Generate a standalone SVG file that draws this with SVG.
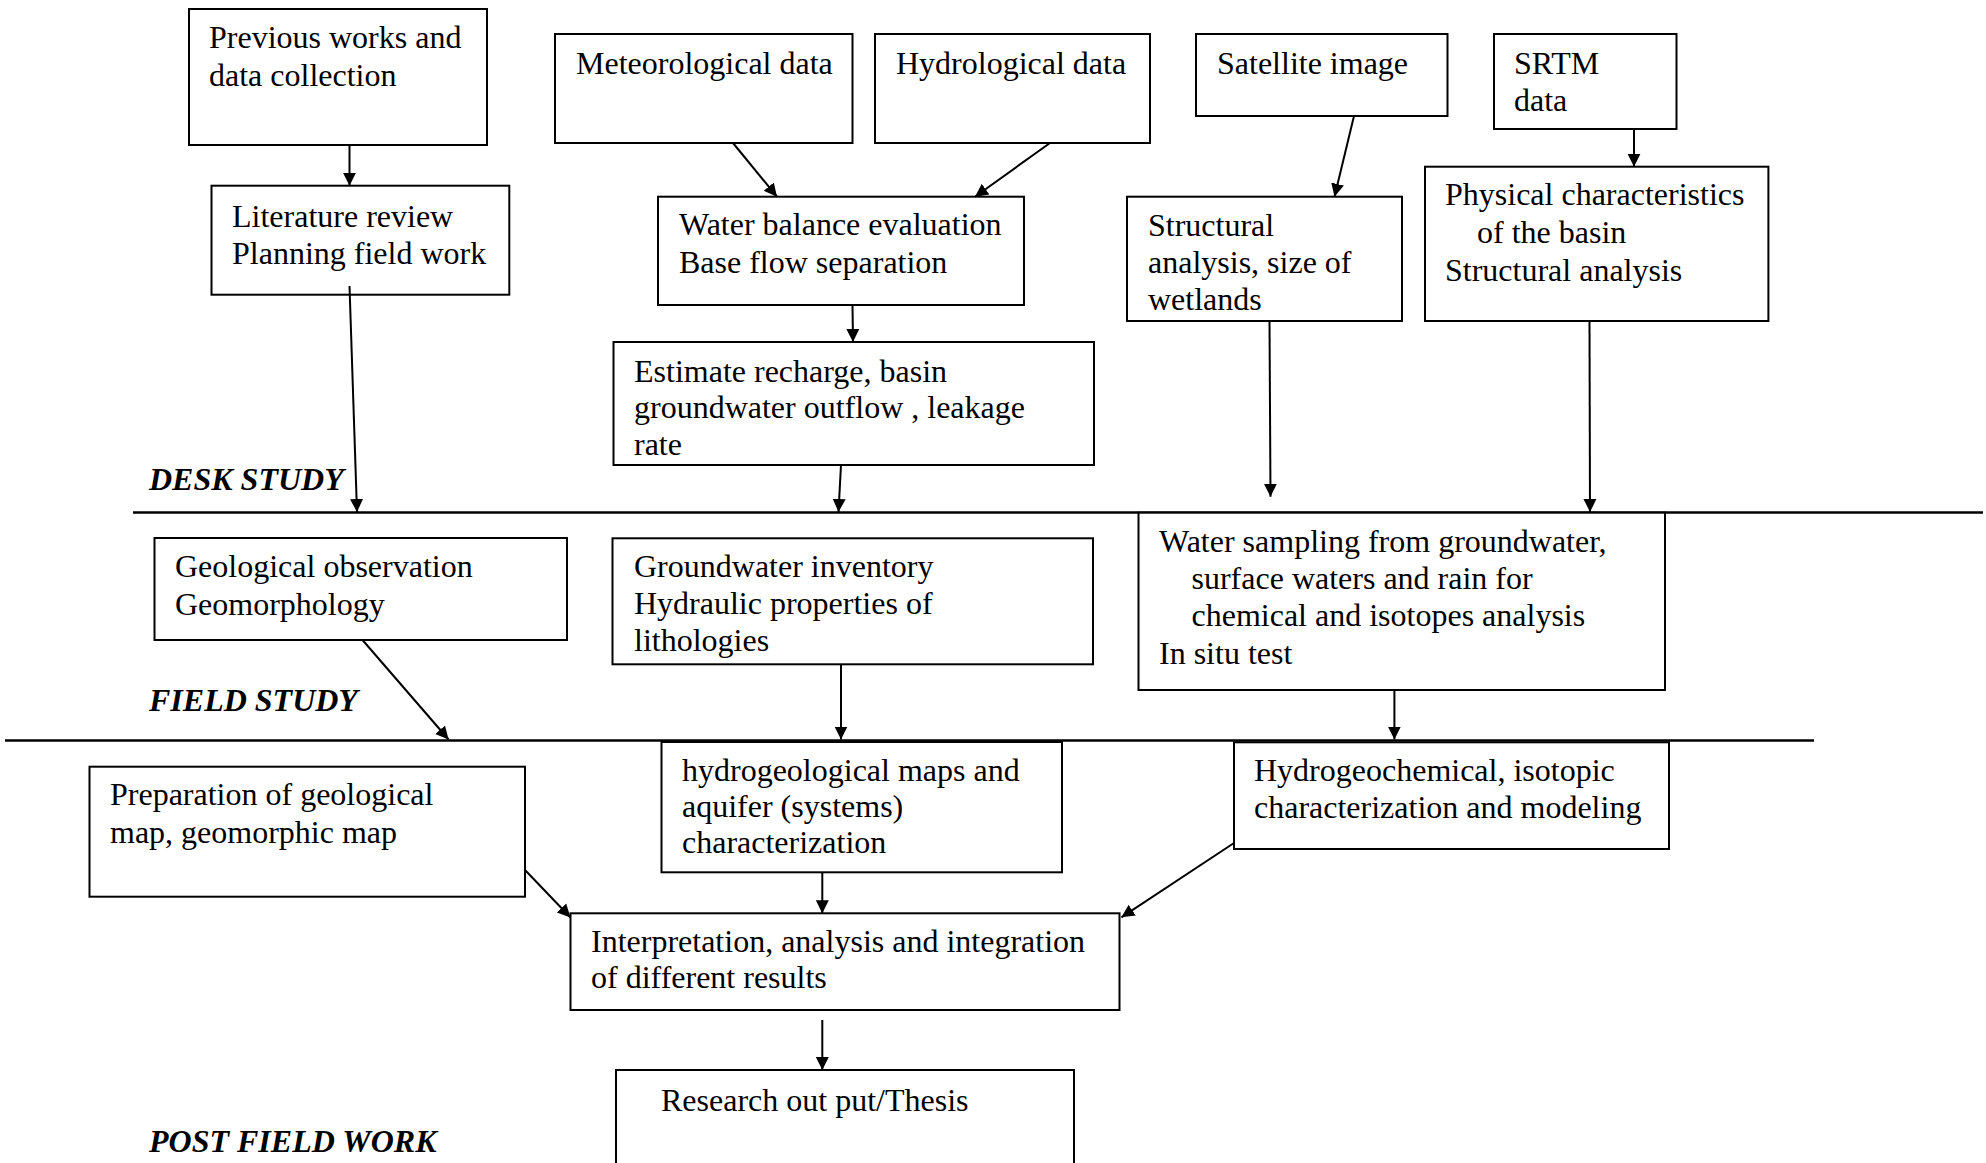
<svg xmlns="http://www.w3.org/2000/svg" width="1986" height="1163" viewBox="0 0 1986 1163">
<style>
.box{fill:#fff;stroke:#000;stroke-width:2}
.t{font-family:"Liberation Serif","Times New Roman",serif;font-size:32px;fill:#000}
.lbl{font-family:"Liberation Serif","Times New Roman",serif;font-size:32px;font-weight:bold;font-style:italic;fill:#000}
.c{stroke:#000;stroke-width:2;fill:none;marker-end:url(#ah)}
.sep{stroke:#000;stroke-width:2.5}
</style>
<defs>
<marker id="ah" viewBox="0 0 10 10" refX="10" refY="5" markerWidth="13" markerHeight="15" markerUnits="userSpaceOnUse" orient="auto">
<path d="M0,0 L10,5 L0,10 z" fill="#000"/>
</marker>
</defs>
<rect width="1986" height="1163" fill="#fff"/>
<g id="separators">
<line class="sep" x1="133" y1="512.5" x2="1983" y2="512.5"/>
<line class="sep" x1="5" y1="740.5" x2="1814" y2="740.5"/>
</g>
<g id="labels">
<text class="lbl" x="149" y="490">DESK STUDY</text>
<text class="lbl" x="149" y="711">FIELD STUDY</text>
<text class="lbl" x="149" y="1152">POST FIELD WORK</text>
</g>
<g id="n-previous"><rect class="box" x="189" y="9" width="298" height="136"/><text class="t" x="209" y="48">Previous works and</text><text class="t" x="209" y="86">data collection</text></g>
<g id="n-met"><rect class="box" x="555" y="34" width="297.5" height="109"/><text class="t" x="576" y="74">Meteorological data</text></g>
<g id="n-hyd"><rect class="box" x="875" y="34" width="275" height="109"/><text class="t" x="896" y="74">Hydrological data</text></g>
<g id="n-sat"><rect class="box" x="1196" y="34" width="251.5" height="82"/><text class="t" x="1217" y="74">Satellite image</text></g>
<g id="n-srtm"><rect class="box" x="1494" y="34" width="182.5" height="95"/><text class="t" x="1514" y="74">SRTM</text><text class="t" x="1514" y="111">data</text></g>
<g id="n-lit"><rect class="box" x="211.5" y="185.7" width="297.8" height="109"/><text class="t" x="232" y="227">Literature review</text><text class="t" x="232" y="264">Planning field work</text></g>
<g id="n-wb"><rect class="box" x="658" y="196.7" width="366" height="108.3"/><text class="t" x="679" y="235">Water balance evaluation</text><text class="t" x="679" y="273">Base flow separation</text></g>
<g id="n-struct"><rect class="box" x="1127" y="196.7" width="275" height="124.3"/><text class="t" x="1148" y="236">Structural</text><text class="t" x="1148" y="273">analysis, size of</text><text class="t" x="1148" y="310">wetlands</text></g>
<g id="n-phys"><rect class="box" x="1425" y="166.7" width="343.4" height="154.3"/><text class="t" x="1445" y="205">Physical characteristics</text><text class="t" x="1477" y="243">of the basin</text><text class="t" x="1445" y="281">Structural analysis</text></g>
<g id="n-est"><rect class="box" x="613.5" y="342" width="480.5" height="123"/><text class="t" x="634" y="382">Estimate recharge, basin</text><text class="t" x="634" y="418">groundwater outflow , leakage</text><text class="t" x="634" y="455">rate</text></g>
<g id="n-geo"><rect class="box" x="154.5" y="538" width="412.5" height="102"/><text class="t" x="175" y="577">Geological observation</text><text class="t" x="175" y="615">Geomorphology</text></g>
<g id="n-gw"><rect class="box" x="612.5" y="538.3" width="480.5" height="126"/><text class="t" x="634" y="577">Groundwater inventory</text><text class="t" x="634" y="614">Hydraulic properties of</text><text class="t" x="634" y="651">lithologies</text></g>
<g id="n-ws"><rect class="box" x="1138.5" y="512.7" width="526.5" height="177.3"/><text class="t" x="1159" y="552">Water sampling from groundwater,</text><text class="t" x="1191.5" y="589">surface waters and rain for</text><text class="t" x="1191.5" y="626">chemical and isotopes analysis</text><text class="t" x="1159" y="664">In situ test</text></g>
<g id="n-prep"><rect class="box" x="89.5" y="766.7" width="435.5" height="130"/><text class="t" x="110" y="805">Preparation of geological</text><text class="t" x="110" y="843">map, geomorphic map</text></g>
<g id="n-hg"><rect class="box" x="661.5" y="742" width="400.5" height="130.3"/><text class="t" x="682" y="781">hydrogeological maps and</text><text class="t" x="682" y="817">aquifer (systems)</text><text class="t" x="682" y="853">characterization</text></g>
<g id="n-hgc"><rect class="box" x="1234" y="742.3" width="435" height="106.7"/><text class="t" x="1254" y="781">Hydrogeochemical, isotopic</text><text class="t" x="1254" y="818">characterization and modeling</text></g>
<g id="n-interp"><rect class="box" x="570.5" y="913.3" width="549" height="96.7"/><text class="t" x="591" y="952">Interpretation, analysis and integration</text><text class="t" x="591" y="988">of different results</text></g>
<g id="n-research"><rect class="box" x="616" y="1070" width="458" height="110"/><text class="t" x="661" y="1111">Research out put/Thesis</text></g>
<g id="connectors">
<line class="c" x1="349.5" y1="145" x2="349.5" y2="185.7"/>
<line class="c" x1="349.5" y1="286" x2="357" y2="512"/>
<line class="c" x1="733" y1="143" x2="777" y2="196.7"/>
<line class="c" x1="1050" y1="143" x2="975" y2="196.7"/>
<line class="c" x1="852.5" y1="305" x2="853" y2="342"/>
<line class="c" x1="841" y1="465" x2="838.5" y2="512"/>
<line class="c" x1="1354" y1="116" x2="1334.5" y2="196.7"/>
<line class="c" x1="1634" y1="129" x2="1634" y2="166.7"/>
<line class="c" x1="1269.5" y1="321" x2="1270.5" y2="496.7"/>
<line class="c" x1="1589.5" y1="321" x2="1590" y2="512"/>
<line class="c" x1="362.5" y1="640" x2="448.6" y2="739.5"/>
<line class="c" x1="841" y1="664.3" x2="841" y2="739.5"/>
<line class="c" x1="1394.4" y1="690" x2="1394.4" y2="739.5"/>
<line class="c" x1="525" y1="870" x2="570.5" y2="917.5"/>
<line class="c" x1="822.3" y1="872.3" x2="822.3" y2="913.3"/>
<line class="c" x1="1234" y1="843" x2="1121.4" y2="917.3"/>
<line class="c" x1="822.3" y1="1020" x2="822.3" y2="1070"/>
</g>
</svg>
